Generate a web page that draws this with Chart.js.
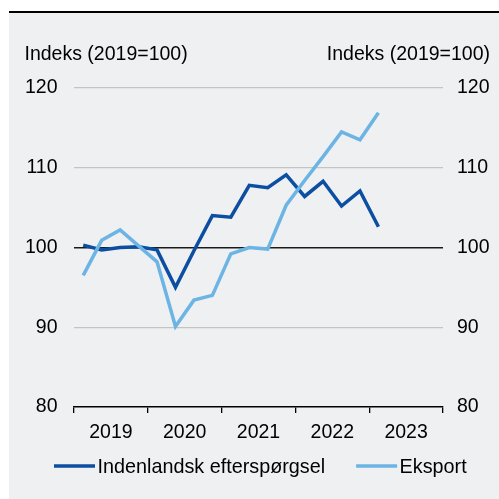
<!DOCTYPE html>
<html><head><meta charset="utf-8">
<script src="https://cdn.jsdelivr.net/npm/chart.js@4"></script>
<style>
html,body{margin:0;padding:0;background:#fff;width:499px;height:499px;overflow:hidden}
#panel{position:absolute;left:9px;top:11px;width:490px;height:488px;background:#eff0f2;border-top:2px solid #000;box-sizing:border-box}
#wrap{position:absolute;left:0;top:0;width:499px;height:499px}
</style></head><body>
<div id="panel"></div>
<div id="wrap"><canvas id="c" width="499" height="499"></canvas></div>
<script>
const quarters = ['2019K1','2019K2','2019K3','2019K4','2020K1','2020K2','2020K3','2020K4',
  '2021K1','2021K2','2021K3','2021K4','2022K1','2022K2','2022K3','2022K4',
  '2023K1','2023K2','2023K3','2023K4'];
const years = ['2019','2020','2021','2022','2023'];
const yTicks = [80, 90, 100, 110, 120];
const axisTitle = 'Indeks (2019=100)';
const indenlandsk = [100.3, 99.7, 100.0, 100.1, 99.7, 95.0, 99.6, 104.0, 103.8, 107.8, 107.5, 109.1, 106.4, 108.3, 105.2, 107.1, 102.6];
const eksport = [96.5, 100.9, 102.2, 100.2, 98.2, 90.1, 93.4, 94.0, 99.2, 100.0, 99.8, 105.3, 108.4, 111.4, 114.5, 113.5, 116.9];

const F = "'Liberation Sans', Arial, sans-serif";
const FS = 19.5;
Chart.defaults.font.family = F;
Chart.defaults.font.size = FS;
Chart.defaults.color = '#000';

const toPts = arr => arr.map((v, i) => ({ x: quarters.indexOf(quarters[i]) + 0.5, y: v }));

const extras = {
  id: 'extras',
  afterDraw(chart) {
    const ctx = chart.ctx;
    ctx.save();
    ctx.font = FS + 'px ' + F;
    ctx.fillStyle = '#000';
    ctx.textBaseline = 'alphabetic';
    ctx.textAlign = 'left';
    ctx.fillText(axisTitle, 24.5, 59.5);
    ctx.textAlign = 'right';
    ctx.fillText(axisTitle, 490, 59.5);
    let x = 54; const y = 466;
    ctx.font = '19.8px ' + F;
    chart.data.datasets.forEach(ds => {
      ctx.strokeStyle = ds.borderColor;
      ctx.lineWidth = 3.5;
      ctx.beginPath(); ctx.moveTo(x, y); ctx.lineTo(x + 41, y); ctx.stroke();
      x += 41 + 2.5;
      ctx.textAlign = 'left';
      ctx.fillText(ds.label, x, y + 7);
      x += ctx.measureText(ds.label).width + 31;
    });
    ctx.restore();
  }
};

new Chart(document.getElementById('c'), {
  type: 'line',
  data: {
    datasets: [
      { label: 'Indenlandsk efterspørgsel', data: toPts(indenlandsk), borderColor: '#0b4ea2', borderWidth: 3.5, pointRadius: 0, tension: 0, yAxisID: 'y', order: 1 },
      { label: 'Eksport', data: toPts(eksport), borderColor: '#6cb4e4', borderWidth: 3.5, pointRadius: 0, tension: 0, yAxisID: 'y', order: 0 }
    ]
  },
  options: {
    responsive: false,
    animation: false,
    layout: { padding: { top: 88, left: 0, right: 0, bottom: 0 } },
    plugins: { legend: { display: false }, tooltip: { enabled: false } },
    scales: {
      x: {
        type: 'linear', min: 0, max: quarters.length,
        afterBuildTicks: s => { s.ticks = years.map((y, i) => ({ value: i * 4 })).concat([{ value: quarters.length }]); },
        ticks: { callback: v => years[v / 4] ?? '', labelOffset: 36.9, padding: 8, maxRotation: 0, autoSkip: false, color: '#000' },
        grid: { drawOnChartArea: false, drawTicks: true, tickLength: 6, color: '#000', lineWidth: 1.3 },
        border: { display: true, color: '#000', width: 1.5 },
        afterFit: s => { s.height = 92; }
      },
      y: {
        position: 'left', min: 80, max: 120,
        afterBuildTicks: s => { s.ticks = yTicks.map(v => ({ value: v })); },
        ticks: { padding: 16.5, color: '#000' },
        grid: {
          drawTicks: false,
          color: c => c.tick.value === 100 ? '#1a1a1a' : (c.tick.value === 80 ? 'rgba(0,0,0,0)' : '#c4c4c4'),
          lineWidth: c => c.tick.value === 100 ? 1.5 : 1.2
        },
        border: { display: false },
        afterFit: s => { s.width = 74; }
      },
      y2: {
        position: 'right', min: 80, max: 120,
        afterBuildTicks: s => { s.ticks = yTicks.map(v => ({ value: v })); },
        ticks: { padding: 14, color: '#000' },
        grid: { drawOnChartArea: false, drawTicks: false },
        border: { display: false },
        afterFit: s => { s.width = 56; }
      }
    }
  },
  plugins: [extras]
});
</script>
</body></html>
